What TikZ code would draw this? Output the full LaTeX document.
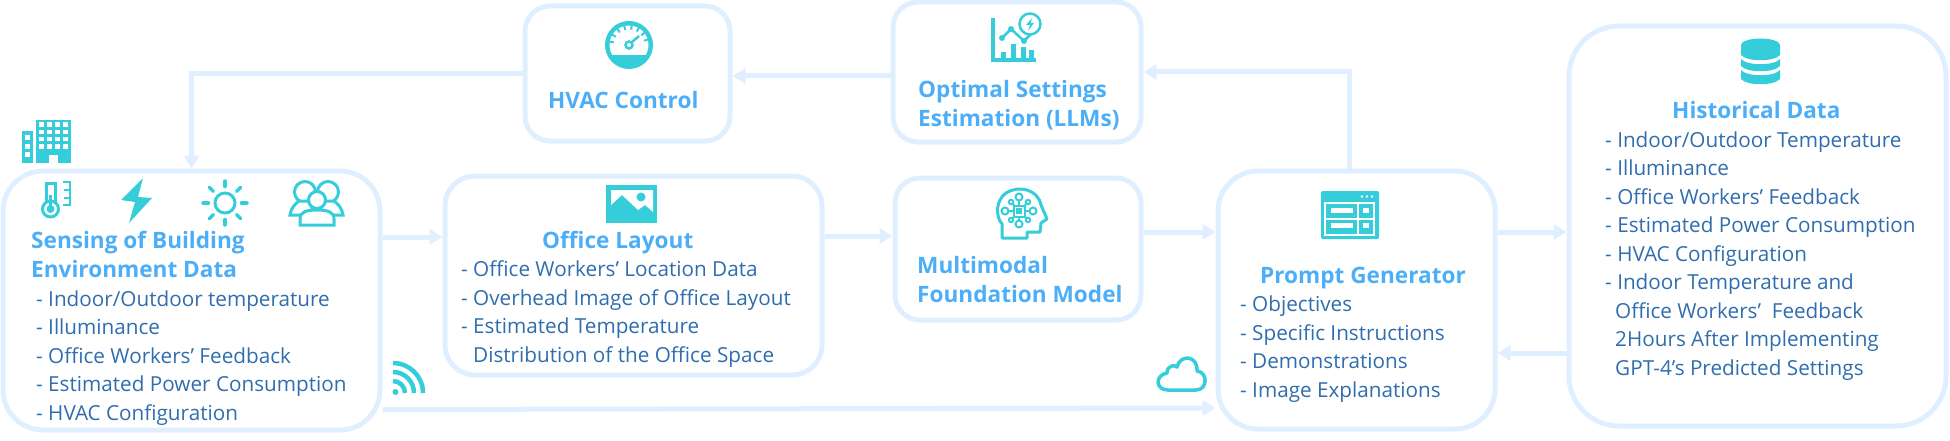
\documentclass[tikz,border=0pt]{standalone}
\usepackage{fontspec}
\setmainfont{Open Sans}
\usetikzlibrary{arrows.meta}
\definecolor{boxblue}{HTML}{DFEFFF}
\definecolor{headblue}{HTML}{4DAEF8}
\definecolor{bodyblue}{HTML}{2F6DAE}
\definecolor{iconteal}{HTML}{35CDD9}

\begin{document}
\begin{tikzpicture}[
  x=1pt, y=-1pt,
  every node/.style={align=left, inner sep=0pt},
  box/.style={draw=boxblue, line width=5pt},
  arr/.style={-{Triangle[length=13pt,width=15pt]}, draw=boxblue, line width=5pt},
  head/.style={anchor=base west, text=headblue, font=\fontsize{22.6}{29}\selectfont\bfseries},
  list/.style={anchor=base west, text=bodyblue, font=\fontsize{20.7}{28.5}\selectfont},
  ico/.style={fill=iconteal, draw=none},
  icoline/.style={draw=iconteal, line width=3pt}
]
\useasboundingbox (0,0) rectangle (1950,441);

\node[box, rounded corners=40pt, minimum width=377pt, minimum height=259pt] (sensing) at (191.5,300.5) {};
\node[box, rounded corners=25pt, minimum width=205pt, minimum height=135pt] (hvac) at (627.5,73.5) {};
\node[box, rounded corners=25pt, minimum width=248pt, minimum height=140pt] (optimal) at (1017,72) {};
\node[box, rounded corners=30pt, minimum width=377pt, minimum height=199pt] (office) at (633.5,275.5) {};
\node[box, rounded corners=25pt, minimum width=246pt, minimum height=142pt] (multimodal) at (1018,249) {};
\node[box, rounded corners=40pt, minimum width=277pt, minimum height=258pt] (prompt) at (1356.5,300) {};
\node[box, rounded corners=50pt, minimum width=377pt, minimum height=400pt] (history) at (1757.5,226) {};

\draw[arr] ([yshift=63.5pt]sensing.east) -- ([yshift=38.5pt]office.west);
\draw[arr] ([yshift=39.5pt]office.east) -- ([yshift=13pt]multimodal.west);
\draw[arr] ([yshift=17pt]multimodal.east) -- ([yshift=68pt]prompt.west);
\draw[arr] ([yshift=-109pt]sensing.east) -- ([yshift=-108pt]prompt.west);
\draw[arr] ([yshift=68pt]prompt.east) -- ([yshift=-6pt]history.west);
\draw[arr] ([yshift=-127pt]history.west) -- ([yshift=-53pt]prompt.east);
\draw[arr] ([xshift=-7pt]prompt.north) |- (optimal.east);
\draw[arr] ([yshift=-4pt]optimal.west) -- ([yshift=-2.5pt]hvac.east);
\draw[arr] (hvac.west) -| (sensing.north);

\node[head] (sensingtitle) at (31,277) {Sensing of Building\\Environment Data};
\node[list] (sensinglist) at (36,420) {- Indoor/Outdoor temperature\\- Illuminance\\- Office Workers’ Feedback\\- Estimated Power Consumption\\- HVAC Configuration};
\node[head] (hvactitle) at (548,109) {HVAC Control};
\node[head] (optimaltitle) at (918,127) {Optimal Settings\\Estimation (LLMs)};
\node[head] (officetitle) at (542,248) {Office Layout};
\node[list] (officelist) at (461,362) {- Office Workers’ Location Data\\- Overhead Image of Office Layout\\- Estimated Temperature\\\hspace*{12pt}Distribution of the Office Space};
\node[head] (multimodaltitle) at (917,302) {Multimodal\\Foundation Model};
\node[head] (prompttitle) at (1260,283) {Prompt Generator};
\node[list] (promptlist) at (1240,397) {- Objectives\\- Specific Instructions\\- Demonstrations\\- Image Explanations};
\node[head] (historytitle) at (1672,118) {Historical Data};
\node[list] (historylist) at (1605,375) {- Indoor/Outdoor Temperature\\- Illuminance\\- Office Workers’ Feedback\\- Estimated Power Consumption\\- HVAC Configuration\\- Indoor Temperature and\\\hspace*{10pt}Office Workers’\ \ Feedback\\\hspace*{10pt}2Hours After Implementing\\\hspace*{10pt}GPT-4’s Predicted Settings};

% building
\fill[ico] (36,120) rectangle (71,163);
\fill[ico] (22,131) rectangle (33,163);
\foreach \c in {0,1,2,3} \foreach \r in {0,1,2,3}
  \fill[white] (38.5+\c*8.2,122.5+\r*7.2) rectangle +(5,4.5);
\foreach \r in {0,1,2} \fill[white] (25,135+\r*8.5) rectangle +(5,5);
\fill[white] (49,155) rectangle (58,163);

% thermometer
\draw[icoline] (46,203) -- (46,183) -- (55,183) -- (55,203);
\draw[icoline, fill=white] (50.5,209) circle (8);
\fill[ico] (50.5,209) circle (4);
\fill[ico] (49,195) rectangle (52,206);
\draw[icoline, line width=2.5pt] (63,182) -- (70,182) -- (70,205) -- (63,205) (64,190) -- (70,190) (64,198) -- (70,198);

% bolt
\fill[ico] (143,178) -- (121,200) -- (135,202) -- (129,223) -- (152,198) -- (138,197) -- cycle;

% sun
\draw[icoline] (225,203) circle (10);
\foreach \a in {0,45,...,315}
  \draw[icoline, line width=3.5pt, line cap=round] (225,203) ++(\a:16.5) -- ++(\a:5.5);

% people
\draw[icoline] (305,192) circle (10.5);
\draw[icoline] (328,192) circle (10.5);
\draw[icoline, fill=white] (290,215) .. controls (291,208) and (295,204) .. (299,201) -- (312,201) -- (312,215) -- cycle;
\draw[icoline, fill=white] (343,215) .. controls (342,208) and (338,204) .. (334,201) -- (321,201) -- (321,215) -- cycle;
\draw[icoline, fill=white] (300,225) -- (300,219) .. controls (300,212) and (306,210) .. (317,210) .. controls (328,210) and (334,212) .. (334,219) -- (334,225) -- cycle;
\draw[icoline, fill=white] (317,200) circle (8.5);

% wifi
\fill[ico] (395.5,392) circle (3);
\foreach \r in {12,21,30}
  \draw[icoline, line width=4.5pt] (393,393-\r) arc[start angle=90, end angle=0, radius=\r pt];

% gauge
\fill[ico] (629,45) circle (24);
\begin{scope}
  \clip (600,20) rectangle (660,55);
  \fill[white] (629,45) circle (19.5);
\end{scope}
\foreach \a in {190,212,...,350}
  \draw[icoline, line width=2pt] (629,45) ++(\a:15.5) -- ++(\a:4.5);
\draw[icoline, line width=2.5pt] (629,45) circle (3.5);
\draw[icoline, line width=2.5pt] (632,42) -- (639,36);

% image
\fill[ico] (606,185) rectangle (657,223);
\fill[white] (611,190) -- (653,190) -- (653,212) -- (645,205) -- (638,210) -- (622,195) -- (611,205) -- cycle;
\fill[ico] (641,197) circle (4.5);

% chart
\draw[icoline, line width=4pt] (993,18) -- (993,60.5) -- (1036,60.5);
\foreach \bx/\by in {1003/52,1013/44,1023/47,1031/50}
  \fill[ico] (\bx-2.5,\by) rectangle (\bx+2.5,59);
\draw[icoline, line width=2.5pt] (1002,38) -- (1011,29) -- (1024,41) -- (1031,34);
\foreach \px/\py in {1002/38,1011/29,1024/41}
  \fill[ico] (\px,\py) circle (3);
\draw[icoline, fill=white, line width=2.5pt] (1030,24) circle (10.5);
\fill[ico] (1032,18) -- (1026,25) -- (1030,25) -- (1028,31) -- (1034,23) -- (1030.5,23) -- cycle;

% head
\draw[icoline, fill=white, line join=round] (1002,238) -- (1002,224) .. controls (995,216) and (996,200) .. (1006,193) .. controls (1018,185) and (1038,189) .. (1041,205) -- (1047,219) -- (1041,223) -- (1040,232) -- (1027,232) -- (1027,238) -- cycle;
\draw[icoline, line width=2pt] (1005,211) -- (1033,211) (1019,197) -- (1019,224) (1011,202) -- (1028,220) (1028,202) -- (1011,220);
\foreach \hx/\hy/\hr in {1005/211/3.5,1033/211/3.5,1019/197/3.5,1019/224/3.5,1011/202/2.2,1028/202/2.2,1011/220/2.2,1028/220/2.2}
  \draw[icoline, line width=2pt, fill=white] (\hx,\hy) circle (\hr);
\draw[icoline, line width=2pt, fill=white] (1013.5,205.5) rectangle (1024.5,216.5);
\fill[ico] (1016,208) rectangle (1022,214);

% window
\fill[ico, rounded corners=2pt] (1321,191) rectangle (1379,239);
\foreach \dx in {1362,1367,1372} \fill[white] (\dx,196.5) circle (1.4);
\draw[white, line width=2pt] (1325,203) rectangle (1374,235) (1358,203) -- (1358,235) (1325,219) -- (1374,219);
\foreach \cy in {208,223} {
  \fill[white] (1331,\cy) rectangle (1353,\cy+5);
  \fill[white] (1363,\cy) rectangle (1369,\cy+5);
}

% cloud
\draw[icoline, line width=3.5pt, line join=round] (1168,390) .. controls (1155,390) and (1155,375) .. (1167,373) .. controls (1167,366) and (1174,364) .. (1177,367) .. controls (1180,354) and (1198,355) .. (1197,371) .. controls (1208,372) and (1208,390) .. (1196,390) -- cycle;

% database
\fill[ico] (1760.5,45) ellipse (19.5 and 6.5);
\fill[ico] (1741,45) -- (1741,55) .. controls (1747,62) and (1774,62) .. (1780,55) -- (1780,45) -- cycle;
\fill[ico] (1741,59) -- (1741,66) .. controls (1747,73) and (1774,73) .. (1780,66) -- (1780,59) .. controls (1774,66) and (1747,66) .. (1741,59) -- cycle;
\fill[ico] (1741,70) -- (1741,79) .. controls (1747,86) and (1774,86) .. (1780,79) -- (1780,70) .. controls (1774,77) and (1747,77) .. (1741,70) -- cycle;
\end{tikzpicture}
\end{document}
